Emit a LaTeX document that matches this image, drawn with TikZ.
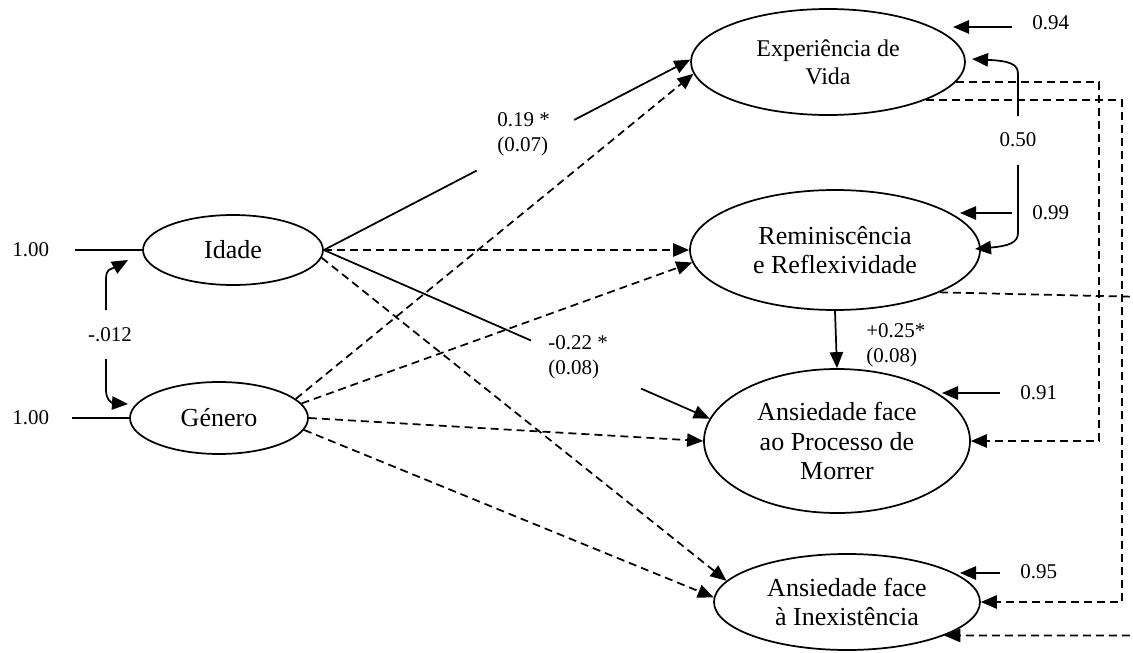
\documentclass[tikz,border=0pt]{standalone}
\usepackage{fontspec}
\setmainfont{Liberation Serif}
\usetikzlibrary{arrows.meta,shapes.geometric,calc}
\begin{document}
\begin{tikzpicture}[x=0.75pt,y=-0.75pt,
  lv/.style={ellipse, draw, line width=1.3pt, inner sep=0pt, align=center, font=\fontsize{19.5}{22}\selectfont},
  lab/.style={font=\fontsize{15.75}{19}\selectfont, inner sep=0pt, align=left},
  plain/.style={line width=1.3pt},
  arr/.style={line width=1.3pt, -{Triangle[length=12pt,width=10pt]}},
  darr/.style={arr, dash pattern=on 6pt off 3.75pt}]
\clip (0,0) rectangle (1133,653);
% latent variables
\node[lv, minimum width=205.5pt, minimum height=79.5pt, font=\fontsize{18}{21}\selectfont] (exp) at (828,62) {Experiência de\\Vida};
\node[lv, minimum width=217.5pt, minimum height=90pt] (rem) at (835,250) {Reminiscência\\e Reflexividade};
\node[lv, minimum width=199.5pt, minimum height=108pt] (mor) at (837,441) {Ansiedade face\\ao Processo de\\Morrer};
\node[lv, minimum width=199.5pt, minimum height=72pt] (inx) at (847,602) {Ansiedade face\\à Inexistência};
\node[lv, minimum width=135pt, minimum height=52.5pt] (ida) at (233,250) {Idade};
\node[lv, minimum width=133.5pt, minimum height=54pt] (gen) at (219,418) {Género};
% labels
\node[lab, anchor=west] (l100a) at (12,250) {1.00};
\node[lab, anchor=west] (l100b) at (12,418) {1.00};
\node[lab] (lcov) at (110,335) {-.012};
\node[lab, anchor=west] (l19) at (497,134) {0.19 *\\(0.07)};
\node[lab, anchor=west] (l22) at (548,357) {-0.22 *\\(0.08)};
\node[lab, anchor=west] (l25) at (866,345) {+0.25*\\(0.08)};
\node[lab] (l50) at (1018,140) {0.50};
\node[lab, anchor=west] (l94) at (1032,23) {0.94};
\node[lab, anchor=west] (l99) at (1032,213) {0.99};
\node[lab, anchor=west] (l91) at (1020,393) {0.91};
\node[lab, anchor=west] (l95) at (1020,572) {0.95};
% exogenous variances
\coordinate (s1) at (75,250);
\coordinate (s2) at (72,418);
\draw[plain] (s1) -- (ida.west);
\draw[plain] (s2) -- (gen.west);
% covariance
\coordinate (cvt) at (128,260);
\coordinate (cvb) at (128,404);
\coordinate (cva) at (106,310);
\coordinate (cvc) at (106,359);
\draw[arr] (cva) -- (106,280) .. controls (106,268) and (110,270) .. (cvt);
\draw[arr] (cvc) -- (106,390) .. controls (106,400) and (112,403) .. (cvb);
% significant paths
\draw[plain] (ida.east) -- ($(ida.east)!0.417!(exp.179)$);
\draw[arr] ($(ida.east)!0.683!(exp.179)$) -- (exp.179);
\draw[plain] (ida.east) -- ($(ida.east)!0.537!(mor.170)$);
\draw[arr] ($(ida.east)!0.822!(mor.170)$) -- (mor.170);
\draw[arr] (rem.south) -- (mor.north);
% non-significant paths
\draw[darr] (ida.east) -- (rem.west);
\draw[darr] (ida.355) -- (inx.170);
\draw[darr] (gen.14) -- (exp.185);
\draw[darr] (gen.10) -- (rem.185);
\draw[darr] (gen.east) -- (mor.west);
\draw[darr] (gen.352) -- (inx.178);
% residuals
\coordinate (e94) at (1012,27); \coordinate (t94) at (953,27);
\coordinate (e99) at (1012,213); \coordinate (t99) at (960,213);
\coordinate (e91) at (1000,393); \coordinate (t91) at (942,393);
\coordinate (e95) at (1000,573); \coordinate (t95) at (960,573);
\draw[arr] (e94) -- (t94);
\draw[arr] (e99) -- (t99);
\draw[arr] (e91) -- (t91);
\draw[arr] (e95) -- (t95);
% residual correlation 0.50
\coordinate (c50t) at (972,59);
\coordinate (c50b) at (975,249);
\draw[arr] (l50.north |- 0,116) -- (1018,74) .. controls (1018,64) and (1010,61) .. (c50t);
\draw[arr] (l50.south |- 0,165) -- (1018,233) .. controls (1018,243) and (1008,246) .. (c50b);
% dashed paths on the right
\draw[darr] (exp.351) -| ($(mor.east)+(128,0)$) -- (mor.east);
\draw[darr] (exp.339) -| ($(inx.east)+(141,0)$) -- (inx.east);
\draw[darr] (rem.338) -- (1145,297) |- (inx.341);
\end{tikzpicture}
\end{document}
